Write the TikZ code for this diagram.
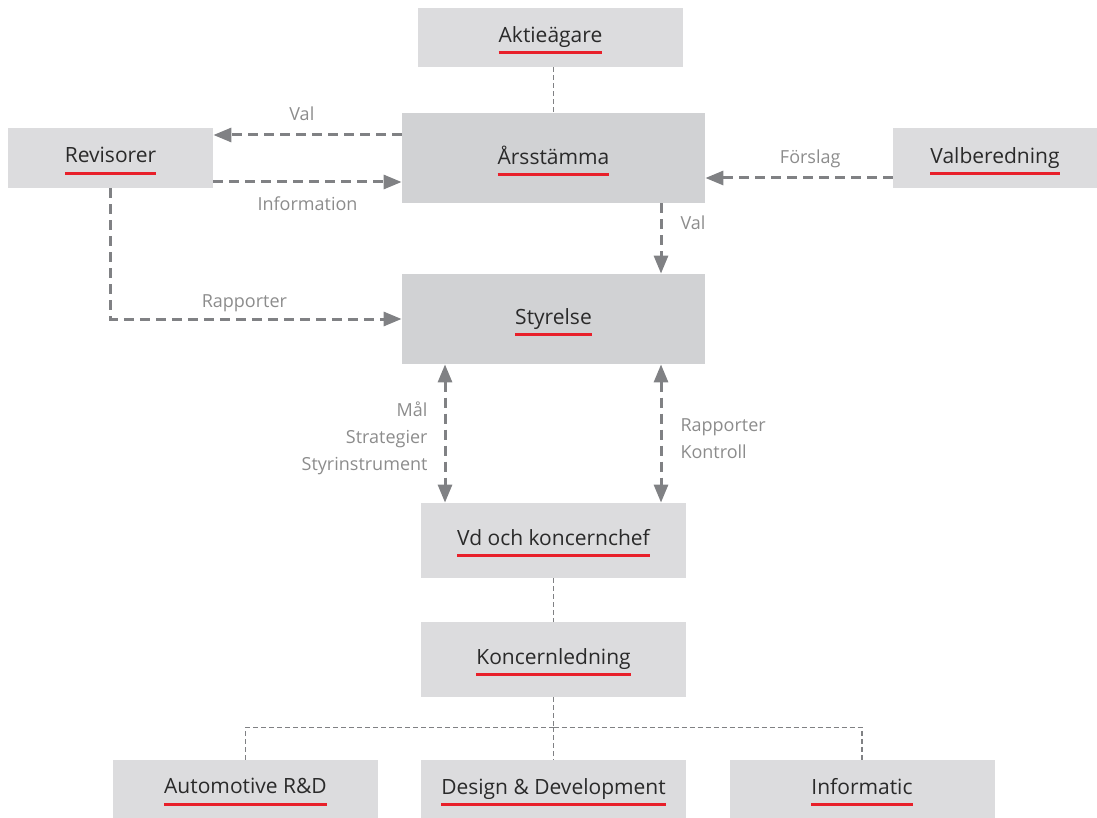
\documentclass[tikz,border=0pt]{standalone}
\usepackage{fontspec}
\setmainfont{Open Sans}
\usepackage{xcolor}
\usetikzlibrary{arrows.meta, positioning}
\definecolor{boxlight}{HTML}{DCDCDE}
\definecolor{boxdark}{HTML}{D1D2D4}
\definecolor{ulred}{HTML}{E8202A}
\definecolor{linegray}{HTML}{808184}
\definecolor{labelgray}{HTML}{8C8C8C}
\definecolor{textdark}{HTML}{2A2A2A}
\newsavebox\ulbox
\newcommand{\redul}[1]{\sbox\ulbox{#1}\dp\ulbox=0pt\vbox{\offinterlineskip\kern3pt\copy\ulbox\kern4.3pt\hbox{\color{ulred}\rule{\wd\ulbox}{1.5pt}}}}
\tikzstyle{box} = [inner sep=0pt, text=textdark, font=\fontsize{10.5}{12}\selectfont]
\tikzstyle{lightbox} = [box, fill=boxlight]
\tikzstyle{darkbox} = [box, fill=boxdark, minimum width=151.5pt, minimum height=45pt]
\tikzstyle{lbl} = [inner sep=0pt, text=labelgray, font=\fontsize{9}{13.5}\selectfont]
\tikzstyle{arr} = [draw=linegray, line width=1.5pt, dash pattern=on 5pt off 3pt, -{Triangle[length=9pt,width=7pt]}]
\tikzstyle{biarr} = [arr, {Triangle[length=9pt,width=7pt]}-{Triangle[length=9pt,width=7pt]}]
\tikzstyle{link} = [draw=linegray, line width=0.8pt, dash pattern=on 2.5pt off 1.5pt]
\begin{document}
\begin{tikzpicture}[x=0.5pt, y=-0.5pt]
    \useasboundingbox (0,0) rectangle (1097,818);

    % Top level
    \node[lightbox, minimum width=132.5pt, minimum height=29.5pt] (aktie) at (550.5,37.5) {\redul{Aktieägare}};
    \node[darkbox] (ars) at (553.5,158) {\redul{Årsstämma}};
    \node[lightbox, minimum width=102.5pt, minimum height=30pt] (rev) at (110.5,158) {\redul{Revisorer}};
    \node[lightbox, minimum width=102pt, minimum height=30pt] (valb) at (995,158) {\redul{Valberedning}};

    % Board and management
    \node[darkbox] (sty) at (553.5,319) {\redul{Styrelse}};
    \node[lightbox, minimum width=132.5pt, minimum height=37.5pt] (vd) at (553.5,540.5) {\redul{Vd och koncernchef}};
    \node[lightbox, minimum width=132.5pt, minimum height=37.5pt] (kl) at (553.5,659.5) {\redul{Koncernledning}};

    % Units
    \node[lightbox, minimum width=132.5pt, minimum height=29pt] (ard) at (245.5,789) {\redul{Automotive R\&D}};
    \node[lightbox, minimum width=132.5pt, minimum height=29pt] (dd) at (553.5,789) {\redul{Design \& Development}};
    \node[lightbox, minimum width=132.5pt, minimum height=29pt] (inf) at (862,789) {\redul{Informatic}};

    % Arrows round the meeting
    \draw[link] (ars.north |- aktie.south) -- (ars.north);
    \draw[arr] ([yshift=11.5pt]ars.west) -- ([yshift=11.5pt]ars.west -| rev.east)
        node[lbl, pos=0.53, above=6.5pt] {Val};
    \draw[arr] ([yshift=-12pt]rev.east) -- ([yshift=-12pt]rev.east -| ars.west)
        node[lbl, midway, below=6.5pt] {Information};
    \draw[arr] ([yshift=-10pt]valb.west) -- ([yshift=-10pt]valb.west -| ars.east)
        node[lbl, pos=0.44, above=4.5pt] {Förslag};
    \draw[arr] ([xshift=53.75pt]ars.south) -- ([xshift=53.75pt]sty.north)
        node[lbl, pos=0.28, right=9pt] {Val};
    \draw[arr] (rev.south) |- (sty.west)
        node[lbl, pos=0.73, above=3pt] {Rapporter};

    % Board to management
    \draw[biarr] ([xshift=-54.25pt]sty.south) -- ([xshift=-54.25pt]vd.north)
        node[lbl, midway, left=8pt, yshift=-2.5pt, align=right] {Mål\\Strategier\\Styrinstrument};
    \draw[biarr] ([xshift=53.75pt]sty.south) -- ([xshift=53.75pt]vd.north)
        node[lbl, midway, right=9pt, yshift=-2.5pt, align=left] {Rapporter\\Kontroll};

    % Lower links
    \draw[link] (vd.south) -- (kl.north);
    \draw[link] (kl.south) -- ++(0,30) coordinate (bus);
    \draw[link] (bus) -| (ard.north);
    \draw[link] (bus) -| (inf.north);
    \draw[link] (bus) -- (dd.north);
\end{tikzpicture}
\end{document}
